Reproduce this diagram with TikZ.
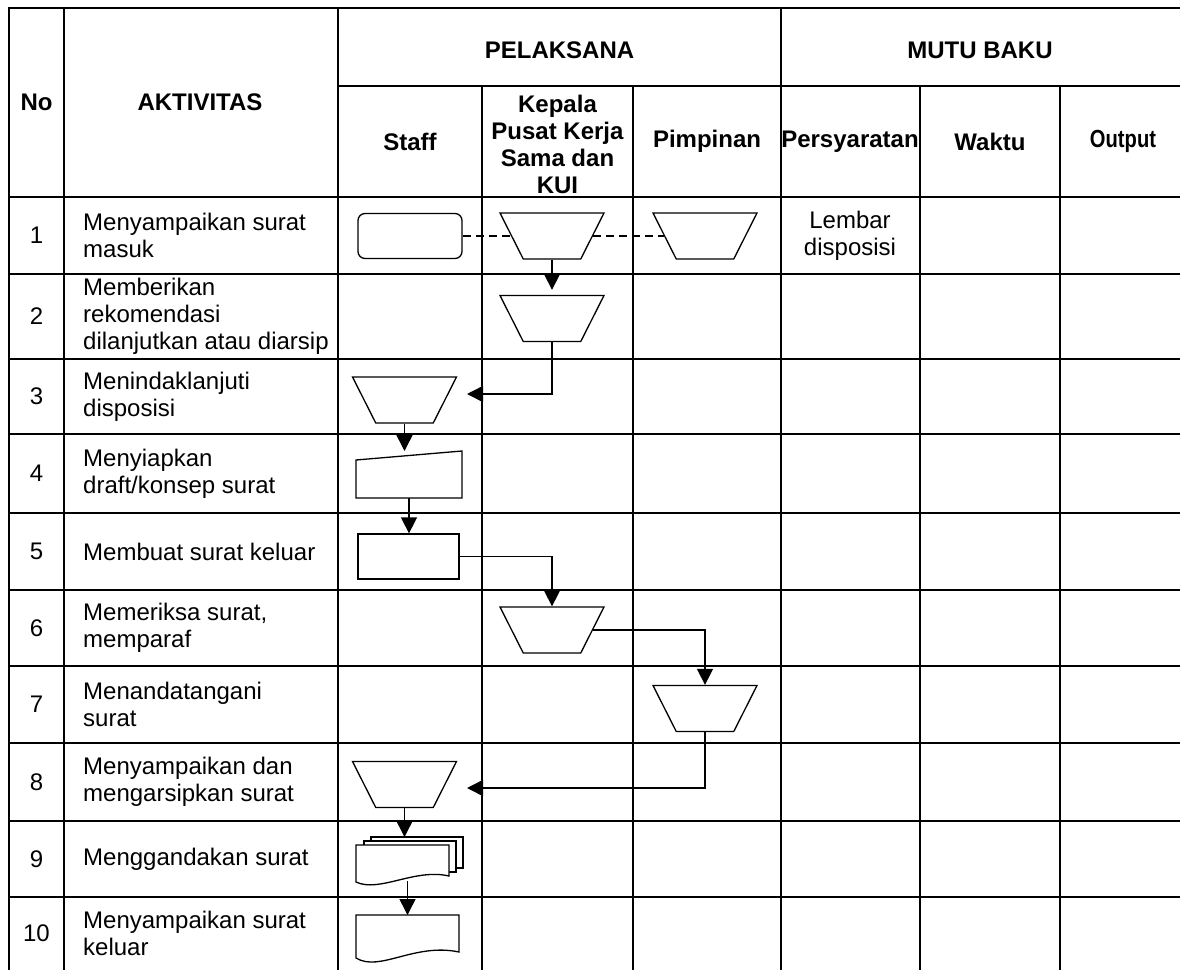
\documentclass[tikz,border=0pt]{standalone}
\usepackage{fontspec}
\setmainfont{Liberation Sans}
\usetikzlibrary{arrows.meta,shapes.geometric}

\begin{document}
\begin{tikzpicture}[x=1pt, y=-1pt,
  font=\fontsize{24}{27}\selectfont,
  grid/.style={line width=1.8pt, line cap=rect},
  hd/.style={font=\fontsize{24}{27}\selectfont\bfseries, align=center},
  act/.style={anchor=west, align=left, inner sep=0pt},
  shp/.style={draw, line width=1.3pt, fill=white},
  terminal/.style={shp, rounded corners=7pt, minimum width=104pt, minimum height=45pt},
  process/.style={shp, minimum width=101pt, minimum height=45pt},
  manop/.style={shp, trapezium, shape border rotate=180, trapezium angle=68,
                trapezium stretches=true, minimum width=104pt, minimum height=46pt,
                inner sep=2pt},
  ghost/.style={inner sep=0pt, outer sep=0pt},
  arr/.style={-{Triangle[length=16pt,width=16pt]}, line width=1.5pt},
  link/.style={line width=1.3pt, dash pattern=on 8pt off 5pt}]
\useasboundingbox (0,0) rectangle (1180,969);

\draw[grid] (9,8) -- (1180,8) (338,86) -- (1180,86);
\foreach \y in {197,274,359,434,513,590,666,743,821,897}
  \draw[grid] (9,\y) -- (1180,\y);
\foreach \x in {9,64,338,781}
  \draw[grid] (\x,8) -- (\x,969);
\foreach \x in {482,633,920,1060}
  \draw[grid] (\x,86) -- (\x,969);

\node[hd] (hno) at (36.5,102.5) {No};
\node[hd] (hakt) at (200,102.5) {AKTIVITAS};
\node[hd] (hpel) at (559.5,50) {PELAKSANA};
\node[hd] (hmutu) at (980,50) {MUTU BAKU};
\node[hd] (hstaff) at (410,141.5) {Staff};
\node[hd] (hkep) at (557.5,144) {Kepala\\Pusat Kerja\\Sama dan\\KUI};
\node[hd] (hpim) at (707,141.5) {Pimpinan};
\node[hd] (hsyarat) at (850,141.5) {Persyaratan};
\node[hd] (hwaktu) at (990,141.5) {Waktu};
\node[hd] (hout) at (1123,141.5) {\scalebox{0.84}[1.03]{Output}};

\foreach \n/\y/\txt in {1/235.5/{Menyampaikan surat\\masuk},
    2/316.5/{Memberikan\\rekomendasi\\dilanjutkan atau diarsip},
    3/396.5/{Menindaklanjuti\\disposisi},
    4/473.5/{Menyiapkan\\draft/konsep surat},
    5/551.5/{Membuat surat keluar},
    6/628/{Memeriksa surat,\\memparaf},
    7/704.5/{Menandatangani\\surat},
    8/782/{Menyampaikan dan\\mengarsipkan surat},
    9/859/{Menggandakan surat},
    10/933/{Menyampaikan surat\\keluar}}{
  \node (no\n) at (36.5,\y) {\n};
  \node[act] (act\n) at (83,\y) {\txt};
}
\node[align=center] (syarat1) at (850,236) {Lembar\\disposisi};

\node[terminal] (s1) at (410,236) {};
\node[manop] (k1) at (552,236) {};
\node[manop] (p1) at (705,236) {};
\node[manop] (k2) at (552,318.5) {};
\node[manop] (s3) at (404.5,400) {};
\node[ghost, minimum width=106pt, minimum height=47pt] (s4) at (409,474.5) {};
\node[process] (s5) at (408.5,556.5) {};
\node[manop] (k6) at (552,630) {};
\node[manop] (p7) at (705,708.5) {};
\node[manop] (s8) at (404.5,784.5) {};
\node[ghost, minimum width=107pt, minimum height=44pt] (s9) at (409.5,859) {};
\node[ghost, minimum width=103pt, minimum height=47pt] (s10) at (407.5,938.5) {};
\coordinate (a3) at (467,394);
\coordinate (a8) at (467,788);

\draw[link] (s1) -- (k1) (k1) -- (p1);
\draw[arr, shorten >=5pt] (k1) -- (k2);
\draw[arr] (k2) |- (a3);
\draw[arr] (s3) -- (s3 |- s4.north);
\draw[arr] (s4.south) -- (s4.south |- s5.north);
\draw[arr] (s5) -| (k6);
\draw[arr] (k6) -| (p7);
\draw[arr] (p7) |- (a8);
\draw[arr] (s8) -- (s8 |- s9.north);
\draw[arr] (s9.south -| s10) -- (s10.north);

\begin{scope}[shift={(s4.center)}]
  \draw[shp] (-53,23.5) -- (53,23.5) -- (53,-23.5) -- (-53,-14.5) -- cycle;
\end{scope}
\begin{scope}[shift={(s9.center)}]
  \draw[shp] (-38.5,-22) rectangle (53.5,9);
  \draw[shp] (-45.5,-18) rectangle (46.5,13);
  \draw[shp] (-53.5,23) -- (-53.5,-14) -- (39.5,-14) -- (39.5,17)
    .. controls (5,9) and (-30,34) .. (-53.5,23) -- cycle;
\end{scope}
\begin{scope}[shift={(s10.center)}]
  \draw[shp] (-51.5,19.5) -- (-51.5,-23.5) -- (51.5,-23.5) -- (51.5,13.5)
    .. controls (7,4) and (-28,34) .. (-51.5,19.5) -- cycle;
\end{scope}
\end{tikzpicture}
\end{document}
